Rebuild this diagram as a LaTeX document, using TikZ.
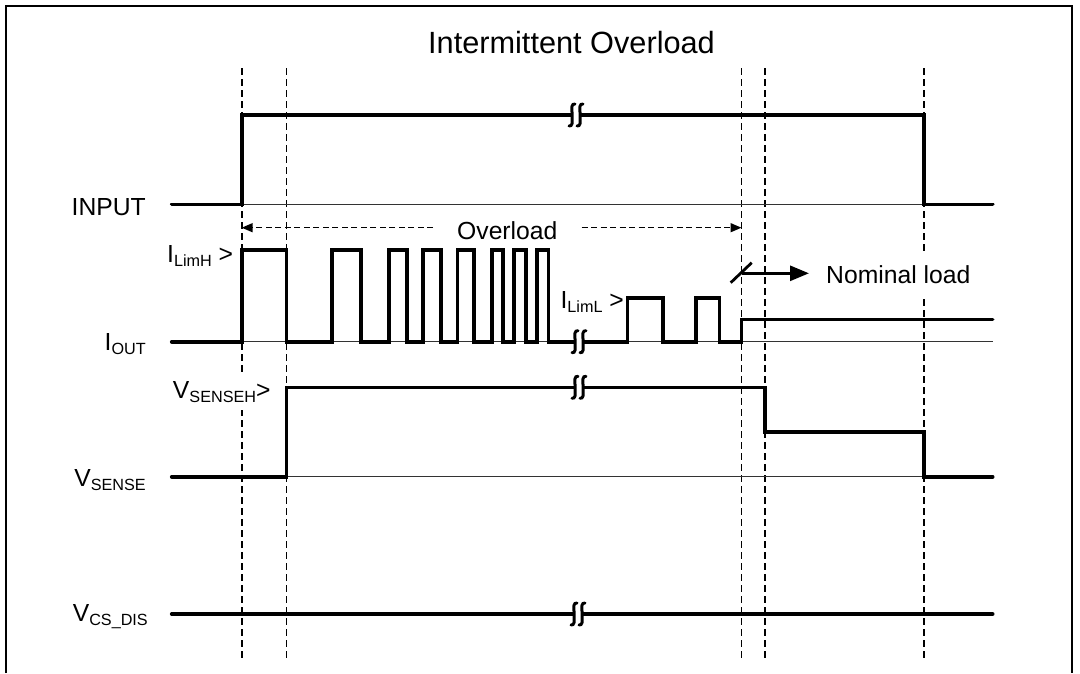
\documentclass[tikz,border=0pt]{standalone}
\usepackage{fontspec}
\setmainfont{Liberation Sans}
\usetikzlibrary{arrows.meta}
\newcommand{\sbs}[1]{\raisebox{-4pt}{\fontsize{16.2pt}{17pt}\selectfont #1}}
\begin{document}
\begin{tikzpicture}[x=1pt,y=-1pt,
  lbl/.style={font=\fontsize{24.7pt}{26pt}\selectfont, inner sep=0pt},
  sig/.style={line width=3.6pt, line join=miter, line cap=round},
  base/.style={line width=1pt, black!80},
  vdash/.style={line width=1.6pt, dash pattern=on 7pt off 4pt},
  adash/.style={line width=1.5pt, dash pattern=on 6pt off 3.5pt, -{Triangle[length=11pt,width=9pt]}},
  brk/.pic={
    \fill[white] (-4,-2.8) rectangle (4,2.8);
    \foreach \dx in {-4,4}
      \draw[line width=3pt, line cap=round]
        (\dx+3,-11) .. controls (\dx-0.5,-11.5) and (\dx-0.5,-7) .. (\dx,-3)
        -- (\dx,3) .. controls (\dx+0.5,7) and (\dx+0.5,11.5) .. (\dx-3,11);
  }
]
\useasboundingbox (0,0) rectangle (1080,673);
% frame
\draw[line width=2.6pt] (6,673) -- (6,6) -- (1072,6) -- (1072,673);
% title
\node[font=\fontsize{30.7pt}{32pt}\selectfont, inner sep=0pt, anchor=base] (title) at (571.5,53.3) {Intermittent Overload};
% dashed verticals
\foreach \x in {241.7,286.5,741.5,765,924}
  \draw[vdash] (\x,68) -- (\x,659);
% thin baselines
\draw[base] (241.7,204.3) -- (992.7,204.3);
\draw[base] (241.7,341.7) -- (992.7,341.7);
\draw[base] (286.5,476.7) -- (992.7,476.7);
% INPUT
\draw[sig] (171.7,204.3) -- (241.7,204.3) -- (241.7,115) -- (924,115) -- (924,204.3) -- (992.7,204.3);
\pic at (576,115) {brk};
% IOUT
\draw[sig] (171.7,341.7) -- (241.7,341.7) -- (241.7,250) -- (286.5,250) -- (286.5,341.7)
  -- (331.7,341.7) -- (331.7,250) -- (360.7,250) -- (360.7,341.7)
  -- (389,341.7) -- (389,250) -- (406.7,250) -- (406.7,341.7)
  -- (422.7,341.7) -- (422.7,250) -- (440.7,250) -- (440.7,341.7)
  -- (457.3,341.7) -- (457.3,250) -- (474,250) -- (474,341.7)
  -- (491.7,341.7) -- (491.7,250) -- (502.7,250) -- (502.7,341.7)
  -- (514,341.7) -- (514,250) -- (526,250) -- (526,341.7)
  -- (537,341.7) -- (537,250) -- (548.3,250) -- (548.3,341.7)
  -- (627.3,341.7) -- (627.3,297.7) -- (662.7,297.7) -- (662.7,341.7)
  -- (695.7,341.7) -- (695.7,297.7) -- (719.3,297.7) -- (719.3,341.7)
  -- (741.5,341.7) -- (741.5,319.3) -- (992.7,319.3);
\pic at (579,341.7) {brk};
% VSENSE
\draw[sig] (171.7,476.7) -- (286.5,476.7) -- (286.5,387.3) -- (765,387.3) -- (765,432) -- (924,432) -- (924,476.7) -- (992.7,476.7);
\pic at (579,387.3) {brk};
% VCS_DIS
\draw[sig] (171.7,614) -- (992.7,614);
\pic at (578,614) {brk};
% labels
\node[lbl, anchor=base east] (linput) at (146,215) {INPUT};
\node[lbl, anchor=base east] (llimh) at (233.3,262.7) {I\sbs{LimH} >};
\node[lbl, anchor=base east] (liout) at (146,350.7) {I\sbs{OUT}};
\node[lbl, anchor=base east, fill=white, inner xsep=1.3pt, inner ysep=8pt] (lvsh) at (272,398.3) {V\sbs{SENSEH}>};
\node[lbl, anchor=base east] (lvs) at (146,486.7) {V\sbs{SENSE}};
\node[lbl, anchor=base east] (lvcs) at (148,621.7) {V\sbs{CS\_DIS}};
\node[lbl, anchor=base east] (llim) at (624,308.3) {I\sbs{LimL} >};
% overload
\node[lbl, anchor=base] (ovl) at (507.3,239.3) {Overload};
\coordinate (oLs) at (433,227.7);
\coordinate (oLe) at (241.7,227.7);
\coordinate (oRs) at (581.7,227.7);
\coordinate (oRe) at (741.5,227.7);
\draw[adash] (oLs) -- (oLe);
\draw[adash] (oRs) -- (oRe);
% nominal load
\node[lbl, anchor=base west, fill=white, inner xsep=2pt, inner ysep=0pt, text height=28pt, text depth=14pt] (nom) at (824,283.3) {Nominal load};
\coordinate (nS) at (741.5,273.3);
\coordinate (nE) at (809,273.3);
\draw[line width=2.8pt, -{Triangle[length=19pt,width=15pt]}] (nS) -- (nE);
\coordinate (sl1) at (730.7,282.7);
\coordinate (sl2) at (751.7,262.7);
\draw[line width=2.8pt] (sl1) -- (sl2);
\end{tikzpicture}
\end{document}
